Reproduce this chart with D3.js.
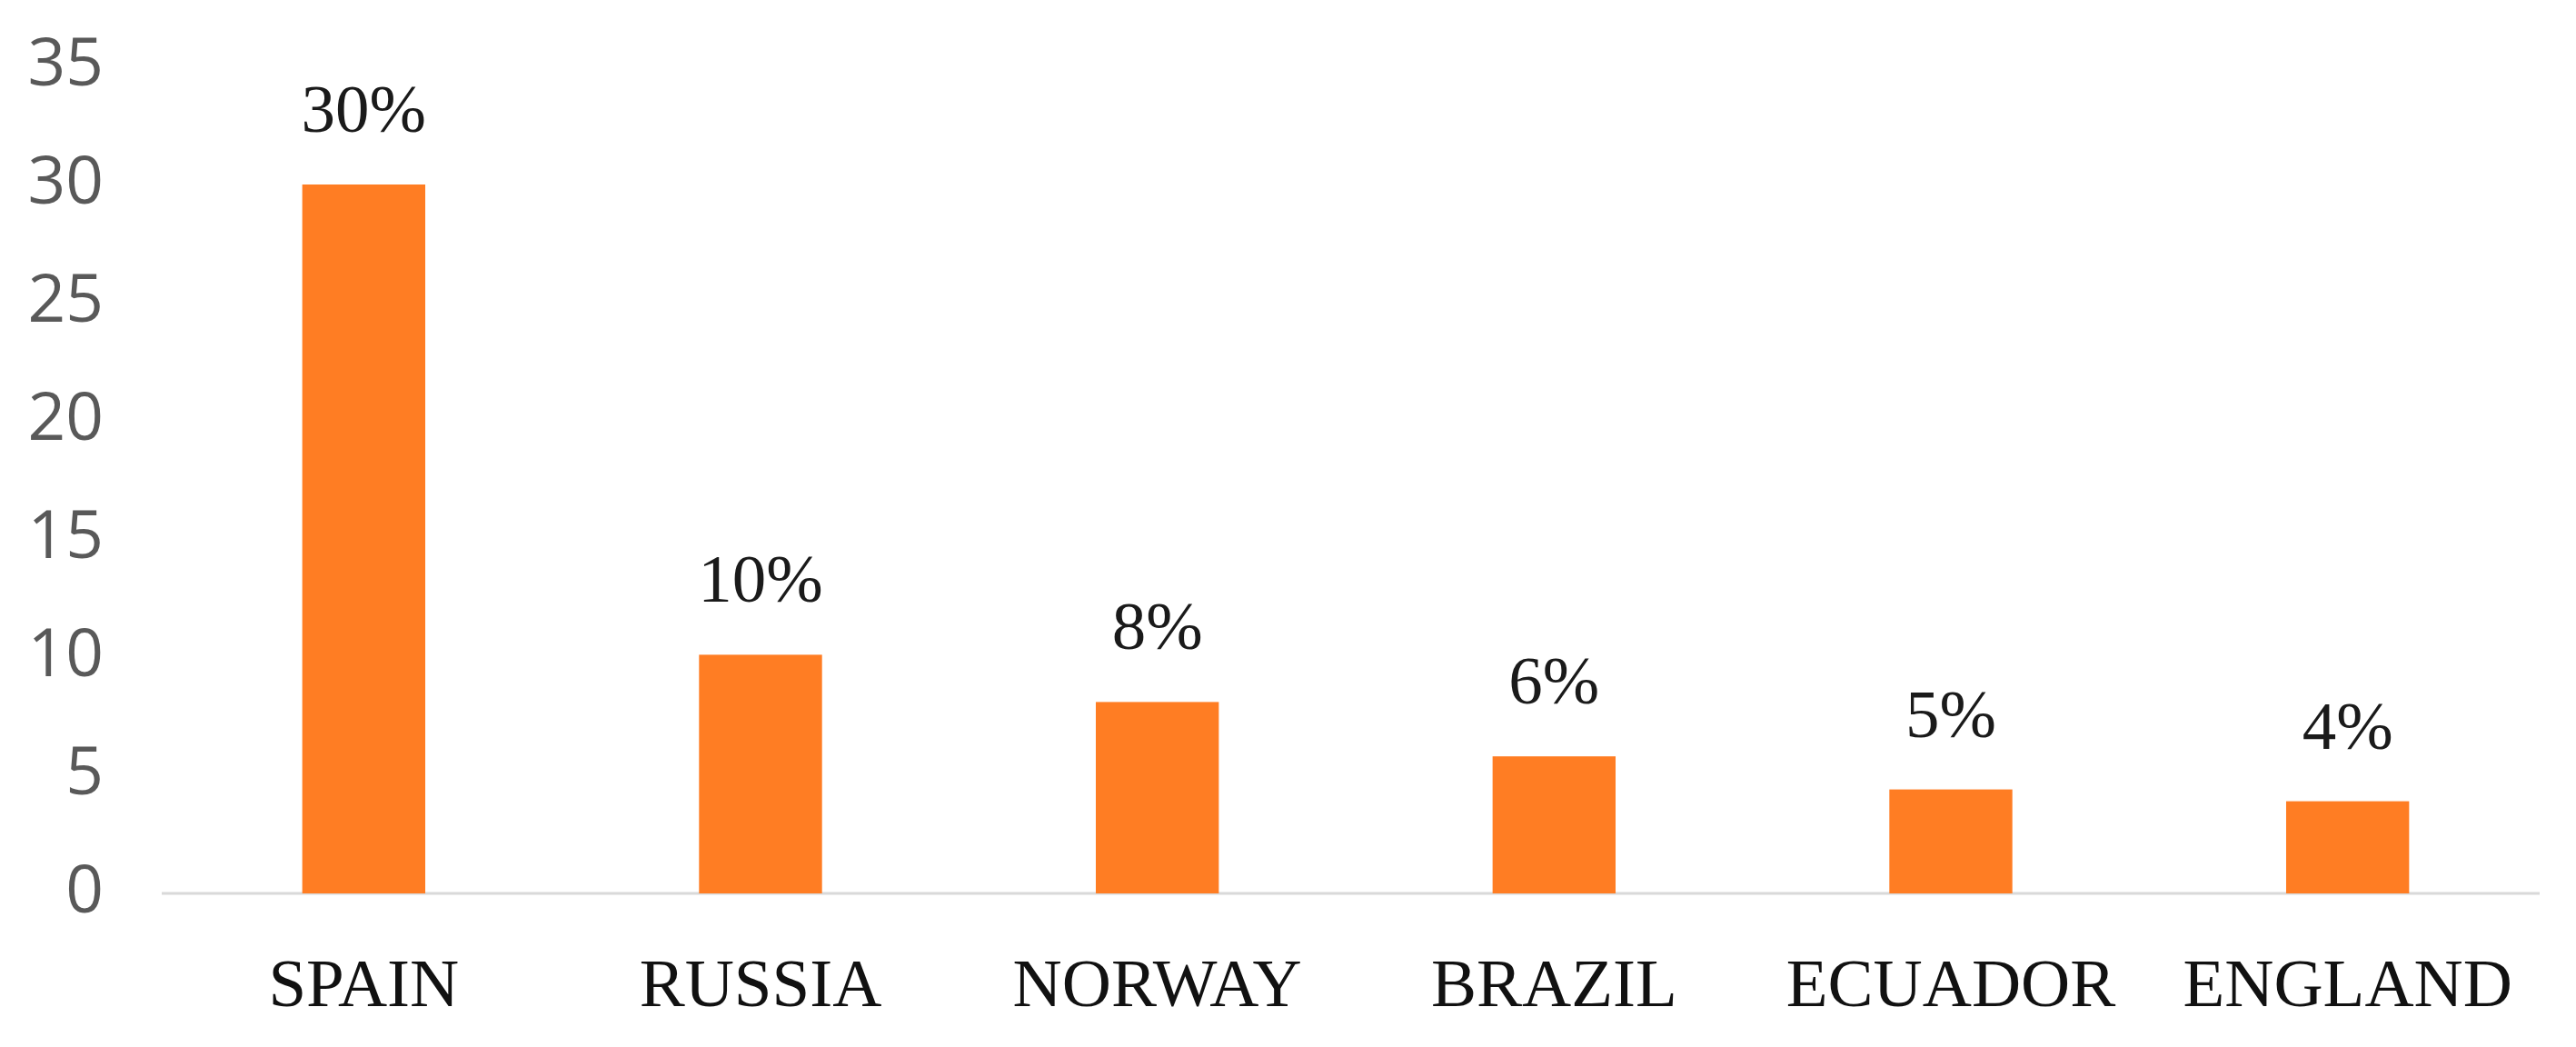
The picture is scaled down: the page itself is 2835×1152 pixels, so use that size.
<!DOCTYPE html>
<html>
<head>
<meta charset="utf-8">
<script src="https://cdn.jsdelivr.net/npm/d3@7"></script>
<style>
  html, body { margin: 0; padding: 0; background: #ffffff; }
  svg { display: block; }
</style>
</head>
<body>
<svg id="chart" width="2835" height="1152"></svg>
<script>
const categories = ["SPAIN", "RUSSIA", "NORWAY", "BRAZIL", "ECUADOR", "ENGLAND"];
const values = [30, 10.1, 8.1, 5.8, 4.4, 3.9];
const valueLabels = ["30%", "10%", "8%", "6%", "5%", "4%"];
const yTicks = [0, 5, 10, 15, 20, 25, 30, 35];

const svg = d3.select("#chart");

const x = d3.scaleBand()
  .domain(categories)
  .range([182, 2802])
  .paddingInner(0.69)
  .paddingOuter(0.345);

const y = d3.scaleLinear()
  .domain([0, 35])
  .range([983, 73]);

// baseline axis line
svg.append("line")
  .attr("x1", 178).attr("x2", 2795)
  .attr("y1", y(0)).attr("y2", y(0))
  .attr("stroke", "#d9d9d9")
  .attr("stroke-width", 3);

// y axis tick labels
const yAxis = d3.axisLeft(y).tickValues(yTicks).tickSize(0).tickPadding(0);
const gy = svg.append("g").attr("transform", "translate(114,0)").call(yAxis);
gy.select(".domain").remove();
gy.selectAll("text")
  .attr("dy", "0.32em")
  .attr("y", -3)
  .style("font-family", "'Open Sans', sans-serif")
  .style("font-size", "73px")
  .style("fill", "#595959");

// bars
svg.append("g").selectAll("rect")
  .data(categories)
  .join("rect")
  .attr("x", d => x(d))
  .attr("width", x.bandwidth())
  .attr("y", (d, i) => y(values[i]))
  .attr("height", (d, i) => y(0) - y(values[i]))
  .attr("fill", "#ff7d23");

// value labels
svg.append("g").selectAll("text")
  .data(categories)
  .join("text")
  .attr("x", d => x(d) + x.bandwidth() / 2)
  .attr("y", (d, i) => y(values[i]) - 58)
  .attr("text-anchor", "middle")
  .style("font-family", "'Liberation Serif', 'Times New Roman', serif")
  .style("font-size", "75px")
  .style("fill", "#1a1a1a")
  .text((d, i) => valueLabels[i]);

// x axis labels
const xAxis = d3.axisBottom(x).tickSize(0).tickPadding(0);
const gx = svg.append("g").attr("transform", "translate(0,1107)").call(xAxis);
gx.select(".domain").remove();
gx.selectAll("text")
  .attr("dy", "0")
  .attr("y", 0)
  .style("font-family", "'Liberation Serif', 'Times New Roman', serif")
  .style("font-size", "75px")
  .style("fill", "#111111");
</script>
</body>
</html>
